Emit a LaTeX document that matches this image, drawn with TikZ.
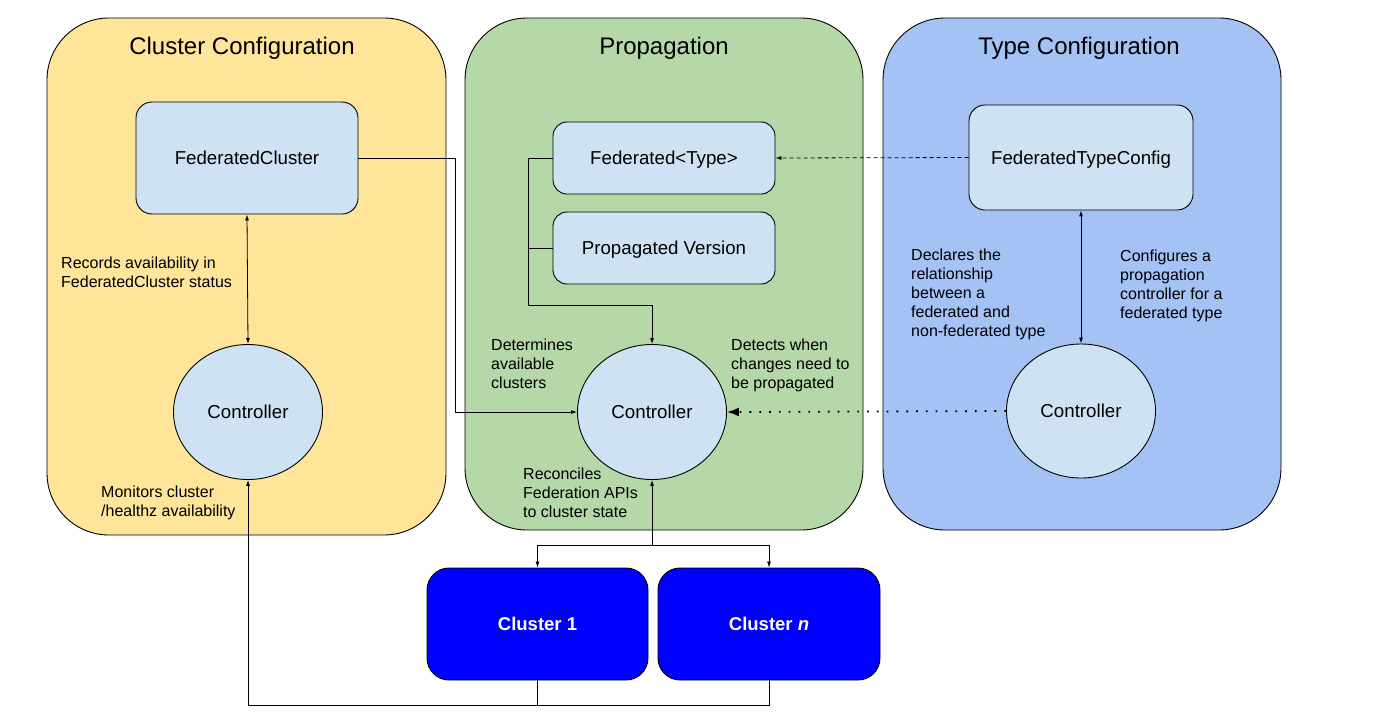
\documentclass[tikz,border=0pt]{standalone}
\usepackage{fontspec}
\setmainfont{Liberation Sans}
\usetikzlibrary{shapes.geometric,arrows.meta}
\definecolor{cyel}{HTML}{FFE599}
\definecolor{cgrn}{HTML}{B6D7A8}
\definecolor{cblu}{HTML}{A4C2F4}
\definecolor{clight}{HTML}{CFE2F3}
\definecolor{cclus}{HTML}{0000FF}
\begin{document}
\begin{tikzpicture}[x=1pt,y=-1pt,
  panel/.style={draw=black,line width=0.9pt,rounded corners=62pt,inner sep=0pt},
  title/.style={font=\fontsize{24}{28}\selectfont,anchor=base,inner sep=0pt},
  box/.style={draw=black,line width=0.9pt,fill=clight,inner sep=0pt,rounded corners=16pt,font=\fontsize{18.7}{22}\selectfont,text height=13.4pt,text depth=0pt},
  clus/.style={draw=black,line width=0.9pt,fill=cclus,inner sep=0pt,rounded corners=22pt,text=white,font=\bfseries\fontsize{18.5}{22}\selectfont,minimum width=221pt,minimum height=112pt,text height=13.3pt,text depth=0pt},
  ctrl/.style={ellipse,draw=black,line width=0.9pt,fill=clight,minimum width=149pt,minimum height=135pt,inner sep=0pt,font=\fontsize{18.7}{22}\selectfont,text height=13.4pt,text depth=0pt},
  lab/.style={anchor=north west,inner sep=0pt,align=left,font=\fontsize{16}{18.8}\selectfont},
  arr/.style={-{Latex[length=6pt,width=4pt]},line width=0.8pt},
  darr/.style={{Latex[length=6pt,width=4pt]}-{Latex[length=6pt,width=4pt]},line width=0.8pt},
  dashedarr/.style={-{Latex[length=6pt,width=4pt]},line width=0.8pt,dash pattern=on 4pt off 3pt},
  dotarr/.style={-{Latex[length=12pt,width=9pt]},line width=1.8pt,dash pattern=on 1.8pt off 8pt}
]
\useasboundingbox (0,0) rectangle (1386,718);

% panels
\node[panel,fill=cyel,minimum width=399pt,minimum height=517pt] (pyel) at (246.5,276.5) {};
\node[panel,fill=cgrn,minimum width=398pt,minimum height=512pt] (pgrn) at (664,274) {};
\node[panel,fill=cblu,minimum width=398pt,minimum height=512pt] (pblu) at (1082,274) {};

\node[title] (t1) at (242,54) {Cluster Configuration};
\node[title] (t2) at (664,54) {Propagation};
\node[title] (t3) at (1079,54) {Type Configuration};

% boxes
\node[box,minimum width=222pt,minimum height=112pt] (fc) at (247,158) {FederatedCluster};
\node[box,rounded corners=14pt,minimum width=222pt,minimum height=72pt] (ft) at (664,158) {Federated<Type>};
\node[box,rounded corners=14pt,minimum width=222pt,minimum height=72pt] (pv) at (664,248) {Propagated Version};
\node[box,minimum width=224pt,minimum height=105pt] (ftc) at (1081,157.5) {FederatedTypeConfig};

% controllers
\node[ctrl] (cc) at (248,412) {Controller};
\node[ctrl] (pc) at (652,412) {Controller};
\node[ctrl,minimum height=134pt] (tc) at (1081,411) {Controller};

% clusters
\node[clus] (c1) at (537.5,624) {Cluster 1};
\node[clus,minimum width=222pt] (cn) at (769,624) {Cluster \textit{n}};

% labels
\node[lab] (l1) at (61,257) {Records availability in\\FederatedCluster status};
\node[lab] (l2) at (101,486) {Monitors cluster\\/healthz availability};
\node[lab] (l3) at (491,339) {Determines\\available\\clusters};
\node[lab] (l4) at (731,339) {Detects when\\changes need to\\be propagated};
\node[lab] (l5) at (523,468) {Reconciles\\Federation APIs\\to cluster state};
\node[lab] (l6) at (911,249) {Declares the\\relationship\\between a\\federated and\\non-federated type};
\node[lab] (l7) at (1120,250) {Configures a\\propagation\\controller for a\\federated type};

% coordinates
\coordinate (j1) at (455,158);
\coordinate (bend) at (528,305);
\coordinate (split) at (652,545);
\coordinate (bot) at (248,705);

% connectors
\draw[arr] (fc.east) -- (j1) |- (pc.west);
\draw[arr] (ft.west) -| (bend) -| (pc.north);
\draw[line width=0.8pt] (pv.west) -- (bend |- pv.west);
\draw[dashedarr] (ftc.west) -- (ft.east);
\draw[dotarr] (tc.west) -- (pc.east);
\draw[darr] (fc.south) -- (cc.north);
\draw[darr] (ftc.south) -- (tc.north);
\draw[arr] (split) -- (pc.south);
\draw[arr] (split) -| (c1.north);
\draw[arr] (split) -| (cn.north);
\draw[line width=0.8pt] (c1.south) -- (c1.south |- bot);
\draw[arr] (cn.south) |- (bot) -- (cc.south);
\end{tikzpicture}
\end{document}
